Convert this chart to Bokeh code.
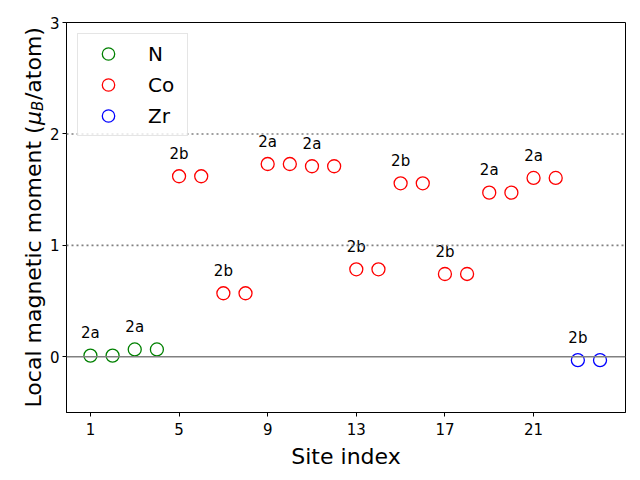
import math
from bokeh.plotting import figure
from bokeh.layouts import row
from bokeh.models import Range1d, Span, Label, FixedTicker
from bokeh.embed import file_html
from bokeh.resources import INLINE
from bokeh.core.properties import value

# ---- data ----
n_x = [1, 2, 3, 4]
n_m = [0.01, 0.01, 0.066, 0.066]
co_x = [5, 6, 7, 8, 9, 10, 11, 12, 13, 14, 15, 16, 17, 18, 19, 20, 21, 22]
co_m = [1.62, 1.62, 0.57, 0.57, 1.73, 1.73, 1.71, 1.71, 0.785, 0.785,
        1.557, 1.557, 0.743, 0.743, 1.473, 1.473, 1.605, 1.605]
zr_x = [23, 24]
zr_m = [-0.03, -0.03]
site_x = [1, 3, 5, 7, 9, 11, 13, 15, 17, 19, 21, 23]
site_labels = ["2a", "2a", "2b", "2b", "2a", "2a", "2b", "2b", "2b", "2a", "2a", "2b"]
x_ticks = [1, 5, 9, 13, 17, 21]
y_ticks = [0, 1, 2, 3]
ref_lines = [1, 2]

FONT = "DejaVu Sans"
H = 472
LW = 46

fig = figure(width=632 - LW, height=H, x_range=Range1d(-0.08, 25.15), y_range=Range1d(-0.5, 3),
             output_backend="svg", toolbar_location=None,
             min_border_left=66 - LW, min_border_right=7, min_border_top=22, min_border_bottom=60)

fig.xgrid.visible = False
fig.ygrid.visible = False
fig.outline_line_color = "black"
fig.outline_line_alpha = 1
fig.outline_line_width = 1
fig.background_fill_color = "white"

for ax in (fig.xaxis[0], fig.yaxis[0]):
    ax.axis_line_color = "black"
    ax.major_tick_line_color = "black"
    ax.major_tick_out = 4
    ax.major_tick_in = 0
    ax.minor_tick_line_color = None
    ax.major_label_text_font = FONT
    ax.major_label_text_font_size = "15px"
    ax.major_label_text_color = "black"

fig.xaxis.ticker = FixedTicker(ticks=x_ticks)
fig.yaxis.ticker = FixedTicker(ticks=y_ticks)
fig.xaxis.major_label_standoff = 6
fig.yaxis.major_label_standoff = 3
fig.xaxis.axis_label = "Site index"
fig.xaxis.axis_label_text_font = FONT
fig.xaxis.axis_label_text_font_size = "22px"
fig.xaxis.axis_label_text_font_style = "normal"
fig.xaxis.axis_label_text_color = "black"
fig.xaxis.axis_label_standoff = 6

# reference lines
fig.add_layout(Span(location=0, dimension="width", line_color="gray", line_width=1.6))
for yl in ref_lines:
    fig.add_layout(Span(location=yl, dimension="width", line_color="gray", line_width=1.6,
                        line_dash="2 3"))

# points
fig.scatter(n_x, n_m, marker="circle", size=13, fill_color=None, line_color="green",
            line_width=1.3, legend_label="N")
fig.scatter(co_x, co_m, marker="circle", size=13, fill_color=None, line_color="red",
            line_width=1.3, legend_label="Co")
fig.scatter(zr_x, zr_m, marker="circle", size=13, fill_color=None, line_color="blue",
            line_width=1.3, legend_label="Zr")

# site annotations
all_x = n_x + co_x + zr_x
all_m = n_m + co_m + zr_m
lab_y = [all_m[all_x.index(sx)] + 0.2 for sx in site_x]
fig.text(x=site_x, y=lab_y, text=site_labels, text_font=value(FONT), text_font_size="15px",
         text_align="center", text_baseline="alphabetic", text_color="black")

# legend
lg = fig.legend[0]
lg.location = "top_left"
lg.label_text_font = FONT
lg.label_text_font_size = "20px"
lg.label_text_color = "black"
lg.glyph_width = 52
lg.glyph_height = 31
lg.label_height = 31
lg.label_width = 35
lg.label_standoff = 14
lg.spacing = 0
lg.padding = 4
lg.margin = 11
lg.border_line_color = "#cccccc"
lg.border_line_width = 1
lg.background_fill_alpha = 0.8

# separate narrow panel holding the composed y-axis label: Local magnetic moment (μ_B/atom)
lab = figure(width=LW, height=H, output_backend="svg", toolbar_location=None,
             x_axis_location=None, y_axis_location=None, min_border=0,
             x_range=Range1d(0, 1), y_range=Range1d(0, 1))
lab.outline_line_color = None
lab.xgrid.visible = False
lab.ygrid.visible = False
bx = 33
y0 = 5
parts = [
    ("Local magnetic moment (", 0.0, 0, "22px", "normal"),
    ("μ", 282.6, 0, "22px", "italic"),
    ("B", 296.6, 4, "15px", "italic"),
    ("/atom)", 307.4, 0, "22px", "normal"),
]
for txt, dy, dx, fs, st in parts:
    lab.add_layout(Label(x=bx + dx, y=y0 + dy, x_units="screen", y_units="screen",
                         text=txt, angle=math.pi / 2, text_align="left",
                         text_baseline="alphabetic", text_font=FONT, text_font_size=fs,
                         text_font_style=st, text_color="black"))

p = row(lab, fig)
open("out.html", "w").write(file_html(p, INLINE))
